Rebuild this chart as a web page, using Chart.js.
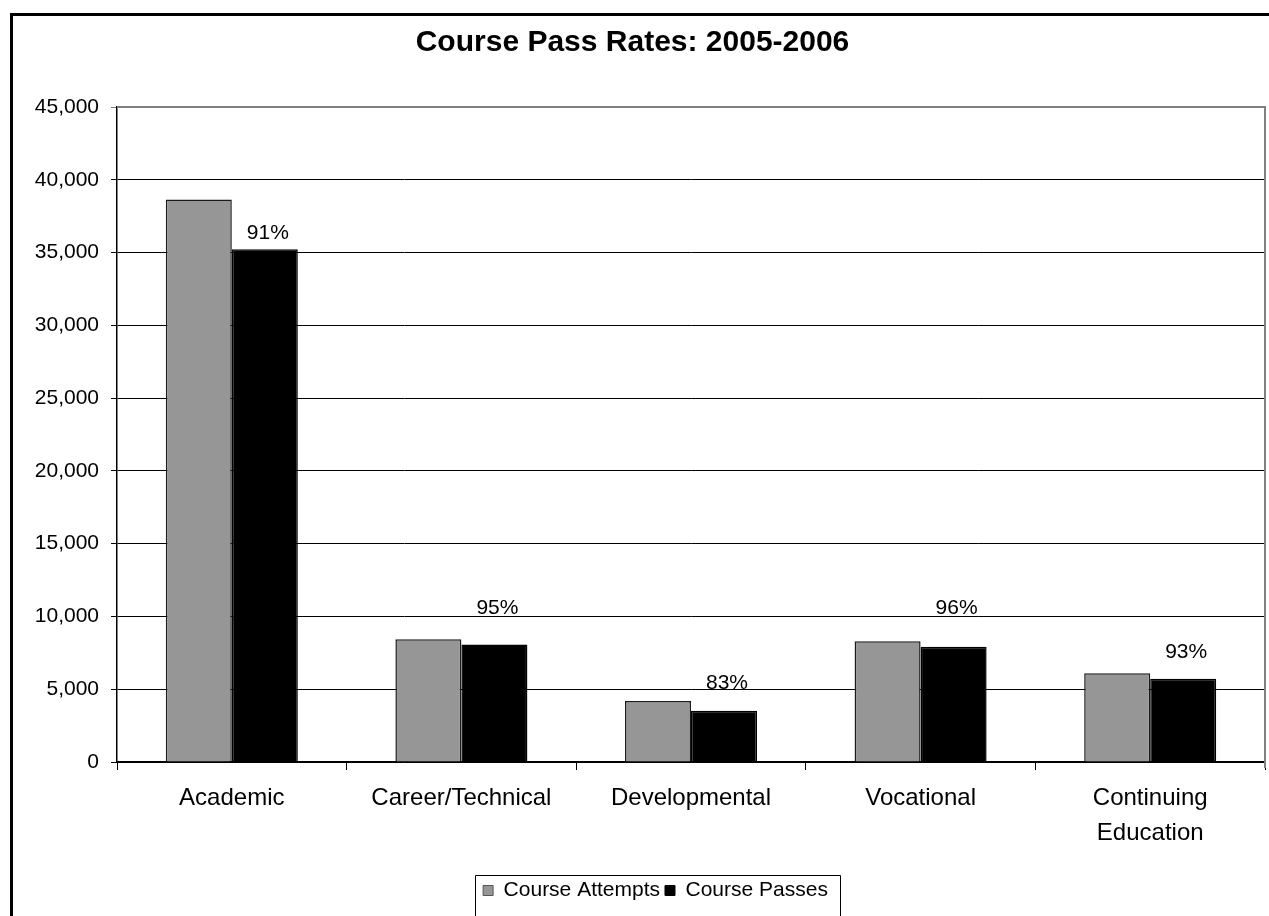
<!DOCTYPE html>
<html>
<head>
<meta charset="utf-8">
<script src="https://cdn.jsdelivr.net/npm/chart.js@4"></script>
<style>
  html, body { margin: 0; padding: 0; background: #fff; }
  #wrap { width: 1269px; height: 916px; position: relative; }
</style>
</head>
<body>
<div id="wrap"><canvas id="myChart"></canvas></div>
<script>
var categories = ['Academic', 'Career/Technical', 'Developmental', 'Vocational', ['Continuing', 'Education']];
var attempts = [38650, 8430, 4190, 8290, 6090];
var passes = [35230, 8080, 3520, 7920, 5720];
var passRates = [91, 95, 83, 96, 93];
// where the percent labels sit (in axis units)
var rateLabelAt = [36300, 10600, 5400, 10600, 7550];

var FONT = "'Liberation Sans', Arial, sans-serif";

// outer frame, plot frame and legend box
var framePlugin = {
    id: 'frames',
    afterLayout: function (chart) {
        // legend sits a bit right of the page centre in the original
        if (chart.legend) chart.legend.left += 46;
    },
    afterDraw: function (chart) {
        var c = chart.ctx, a = chart.chartArea;
        c.save();
        c.strokeStyle = '#000';
        c.lineWidth = 3;
        c.strokeRect(11.5, 14.5, 1400, 1000);

        c.strokeStyle = '#808080';
        c.lineWidth = 2;
        c.beginPath();
        c.moveTo(a.left, a.top);
        c.lineTo(a.right, a.top);
        c.lineTo(a.right, a.bottom + 6);
        c.stroke();

        var lg = chart.legend;
        if (lg && lg.legendHitBoxes.length) {
            var hb = lg.legendHitBoxes;
            var l = hb[0].left - 8;
            var last = hb[hb.length - 1];
            var r = last.left + last.width + 12;
            var mid = hb[0].top + hb[0].height / 2;
            c.strokeStyle = '#000';
            c.lineWidth = 1;
            c.beginPath();
            c.moveTo(Math.round(l) + 0.5, 930);
            c.lineTo(Math.round(l) + 0.5, Math.round(mid - 16) + 0.5);
            c.lineTo(Math.round(r) + 0.5, Math.round(mid - 16) + 0.5);
            c.lineTo(Math.round(r) + 0.5, 930);
            c.stroke();
        }
        c.restore();
    }
};

// percent labels above the pass bars
var rateLabels = {
    id: 'rateLabels',
    afterDatasetsDraw: function (chart) {
        var c = chart.ctx;
        var meta = chart.getDatasetMeta(1);
        var y = chart.scales.y;
        c.save();
        c.fillStyle = '#000';
        c.font = '21px ' + FONT;
        c.textAlign = 'center';
        c.textBaseline = 'middle';
        meta.data.forEach(function (bar, i) {
            c.fillText(passRates[i] + '%', bar.x + 3, y.getPixelForValue(rateLabelAt[i]));
        });
        c.restore();
    }
};

var ctx = document.getElementById('myChart').getContext('2d');
var chart = new Chart(ctx, {
    type: 'bar',
    data: {
        labels: categories,
        datasets: [{
            label: 'Course Attempts',
            data: attempts,
            backgroundColor: '#969696',
            borderColor: '#1a1a1a',
            borderWidth: 1.5
        }, {
            label: 'Course Passes',
            data: passes,
            backgroundColor: '#000',
            borderColor: '#000',
            borderWidth: 1.5
        }]
    },
    options: {
        responsive: true,
        maintainAspectRatio: false,
        animation: false,
        layout: { padding: { left: 0, right: 4, top: 0, bottom: 5 } },
        datasets: {
            bar: { categoryPercentage: 0.575, barPercentage: 1.0 }
        },
        plugins: {
            title: {
                display: true,
                text: 'Course Pass Rates: 2005-2006',
                color: '#000',
                font: { family: FONT, size: 30, weight: 'bold', lineHeight: 1.2 },
                padding: { top: 25, bottom: 46 }
            },
            legend: {
                position: 'bottom',
                labels: {
                    color: '#000',
                    font: { family: FONT, size: 21 },
                    boxWidth: 10,
                    boxHeight: 10,
                    padding: 5,
                    generateLabels: function (chart) {
                        return chart.data.datasets.map(function (ds, i) {
                            return {
                                text: ds.label,
                                fillStyle: ds.backgroundColor,
                                strokeStyle: i === 0 ? '#555' : '#000',
                                lineWidth: 1,
                                datasetIndex: i,
                                fontColor: '#000'
                            };
                        });
                    }
                }
            },
            tooltip: { enabled: false }
        },
        scales: {
            x: {
                afterFit: function (s) { s.height = 113; },
                grid: {
                    offset: true,
                    drawOnChartArea: false,
                    drawTicks: true,
                    tickLength: 8,
                    color: '#000'
                },
                border: { display: true, color: '#000', width: 1.5 },
                ticks: {
                    color: '#000',
                    font: { family: FONT, size: 24, lineHeight: 1.45 },
                    padding: 11,
                    maxRotation: 0
                }
            },
            y: {
                min: 0,
                max: 45000,
                afterFit: function (s) { s.width = 117; },
                grid: {
                    color: function (c) { return c.tick && c.tick.value === 45000 ? '#808080' : '#000'; },
                    lineWidth: 1,
                    tickLength: 6,
                    drawTicks: true
                },
                border: { display: true, color: '#000', width: 1.5 },
                ticks: {
                    stepSize: 5000,
                    color: '#000',
                    padding: 12,
                    font: { family: FONT, size: 21 },
                    callback: function (v) { return v.toLocaleString('en-US'); }
                }
            }
        }
    },
    plugins: [framePlugin, rateLabels]
});
</script>
</body>
</html>
